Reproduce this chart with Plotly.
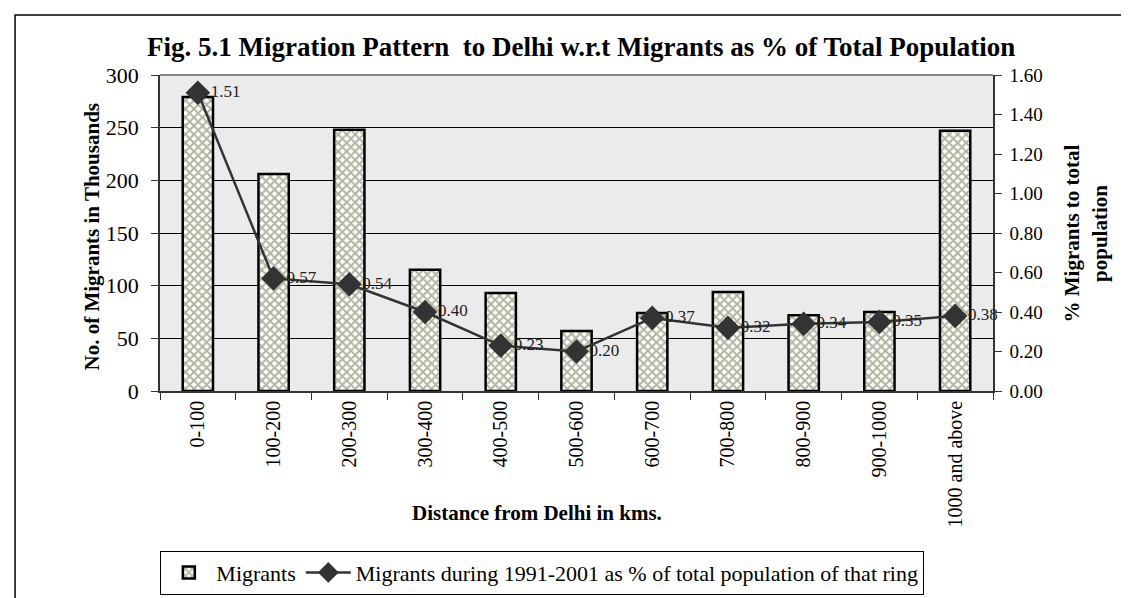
import plotly.graph_objects as go

categories = ["0-100", "100-200", "200-300", "300-400", "400-500", "500-600",
              "600-700", "700-800", "800-900", "900-1000", "1000 and above"]
migrants = [279, 206, 248, 115, 93, 57, 74, 94, 72, 75, 247]
pct_migrants = [1.51, 0.57, 0.54, 0.40, 0.23, 0.20, 0.37, 0.32, 0.34, 0.35, 0.38]
pct_labels = ["1.51", "0.57", "0.54", "0.40", "0.23", "0.20", "0.37", "0.32", "0.34", "0.35", "0.38"]

FONT = "Liberation Serif"

fig = go.Figure()
fig.add_trace(go.Bar(
    x=categories, y=migrants, name="Migrants",
    marker=dict(color="white", line=dict(color="black", width=2.5),
                pattern=dict(shape="x", fgcolor="#66663f", bgcolor="white",
                             size=6, solidity=0.55)),
    width=0.4,
))
fig.add_trace(go.Scatter(
    x=categories, y=pct_migrants, yaxis="y2",
    name="Migrants during 1991-2001 as % of total population of that ring",
    mode="lines+markers+text",
    line=dict(color="#333333", width=2.5),
    marker=dict(symbol="diamond", size=19, color="#333333"),
    text=pct_labels, textposition="middle right", cliponaxis=False,
    textfont=dict(family=FONT, size=17, color="#222"),
))

fig.update_layout(
    width=1129, height=598,
    margin=dict(l=152, r=144, t=67, b=204),
    paper_bgcolor="white",
    plot_bgcolor="#ebebeb",
    font=dict(family=FONT, size=18, color="black"),
    showlegend=True,
    legend=dict(orientation="h", x=0.459, xanchor="center", y=-0.505, yanchor="top",
                bordercolor="black", borderwidth=1, bgcolor="white",
                font=dict(family=FONT, size=22), itemwidth=45,
                traceorder="normal"),
    bargap=0.6,
    xaxis=dict(
        type="category", showgrid=False, showline=True, linecolor="#333", linewidth=1.5,
        ticks="outside", tickson="boundaries", ticklen=7, tickcolor="#333",
        tickangle=-90, tickfont=dict(family=FONT, size=20),
        range=[-0.5, 10.5], mirror=False, automargin=False,
    ),
    yaxis=dict(
        range=[0, 300], tickvals=[0, 50, 100, 150, 200, 250, 300],
        showgrid=True, gridcolor="black", gridwidth=1,
        showline=True, linecolor="#333", linewidth=1.5,
        ticks="outside", ticklen=7, tickcolor="#333", ticklabelstandoff=8,
        tickfont=dict(family=FONT, size=22), zeroline=False, automargin=False,
    ),
    yaxis2=dict(
        overlaying="y", side="right", range=[0, 1.6],
        tickvals=[0, 0.2, 0.4, 0.6, 0.8, 1.0, 1.2, 1.4, 1.6],
        ticktext=["0.00", "0.20", "0.40", "0.60", "0.80", "1.00", "1.20", "1.40", "1.60"],
        showgrid=False, showline=True, linecolor="#333", linewidth=1.5,
        ticks="outside", ticklen=7, tickcolor="#333", ticklabelstandoff=4,
        tickfont=dict(family=FONT, size=19), zeroline=False, automargin=False,
    ),
    shapes=[
        dict(type="rect", xref="paper", yref="paper", x0=-0.174, x1=1.185, y0=-0.66, y1=1.19,
             line=dict(color="black", width=1.5), fillcolor="rgba(0,0,0,0)", layer="below"),
        dict(type="line", xref="paper", yref="paper", x0=0, x1=1, y0=1, y1=1,
             line=dict(color="#888", width=2)),
    ],
    annotations=[
        dict(text="<b>Fig. 5.1 Migration Pattern  to Delhi w.r.t Migrants as % of Total Population</b>",
             xref="paper", yref="paper", x=0.505, y=1.089, xanchor="center", yanchor="middle",
             showarrow=False, font=dict(family=FONT, size=27)),
        dict(text="<b>No. of Migrants in Thousands</b>", xref="paper", yref="paper",
             x=-0.0816, y=0.486, xanchor="center", yanchor="middle", textangle=-90,
             showarrow=False, font=dict(family=FONT, size=21)),
        dict(text="<b>% Migrants to total<br>population</b>", xref="paper", yref="paper",
             x=1.111, y=0.5, xanchor="center", yanchor="middle", textangle=-90,
             showarrow=False, font=dict(family=FONT, size=21)),
        dict(text="<b>Distance from Delhi in kms.</b>", xref="paper", yref="paper",
             x=0.452, y=-0.385, xanchor="center", yanchor="middle",
             showarrow=False, font=dict(family=FONT, size=21)),
    ],
)

fig.write_html("out.html")
